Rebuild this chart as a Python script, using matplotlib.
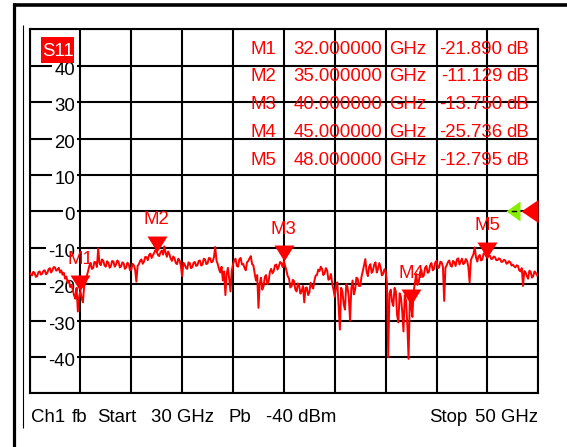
import numpy as np
import matplotlib
matplotlib.use("Agg")
import matplotlib.pyplot as plt
from matplotlib.path import Path
from matplotlib.lines import Line2D
from matplotlib.patches import Rectangle
import matplotlib.transforms as mtransforms

plt.rcParams['font.family'] = ['Liberation Sans', 'DejaVu Sans']

# ---------------- data ----------------
start_ghz = 30.0
stop_ghz = 50.0
s11_db = [
    -16.8, -17.3, -17.6, -16.6, -16.9, -18.0, -17.8, -16.7, -16.5, -17.4,
    -17.1, -16.3, -16.2, -17.3, -16.9, -15.9, -15.6, -16.8, -16.2, -15.3,
    -15.4, -16.3, -16.0, -15.5, -16.8, -16.2, -17.4, -16.9, -18.5, -17.9,
    -19.6, -19.0, -20.8, -20.2, -21.5, -23.0, -24.0, -21.0, -27.5, -23.5,
    -21.9, -23.8, -25.0, -20.5, -19.5, -17.8, -16.5, -15.0, -14.2, -15.8,
    -15.6, -13.9, -14.0, -15.3, -10.2, -14.2, -14.8, -13.2, -13.6, -14.9,
    -15.2, -13.7, -14.1, -15.5, -15.0, -13.6, -13.8, -15.2, -14.6, -13.5,
    -13.9, -15.4, -15.1, -14.0, -14.3, -15.8, -15.4, -14.1, -14.5, -16.2,
    -16.0, -14.4, -14.8, -15.9, -19.3, -15.0, -14.5, -13.6, -13.2, -14.4,
    -13.8, -12.5, -12.6, -13.4, -12.0, -11.6, -12.8, -12.1, -11.4, -10.6,
    -11.1, -12.0, -12.3, -11.2, -10.8, -11.9, -9.6, -11.4, -12.5, -11.0,
    -11.8, -13.0, -13.6, -12.4, -12.9, -14.2, -14.5, -13.0, -13.5, -15.0,
    -17.8, -14.1, -14.6, -15.5, -15.8, -14.0, -14.2, -15.6, -15.3, -14.1,
    -13.9, -15.0, -14.8, -13.6, -13.5, -14.9, -14.6, -13.0, -13.2, -14.5,
    -14.3, -12.8, -12.9, -14.0, -13.8, -12.6, -9.8, -13.5, -14.5, -15.9,
    -16.8, -15.2, -19.0, -16.5, -23.0, -17.2, -15.5, -18.6, -22.0, -16.3,
    -14.6, -13.4, -13.0, -15.0, -15.2, -13.1, -12.8, -14.6, -14.4, -15.5,
    -16.2, -14.0, -13.6, -12.9, -12.3, -14.5, -14.8, -17.0, -19.0, -17.5,
    -26.5, -19.8, -18.2, -21.5, -20.6, -18.0, -17.5, -20.0, -19.2, -16.6,
    -15.8, -17.0, -16.4, -14.8, -14.6, -16.0, -15.1, -13.9, -14.2, -15.3,
    -13.75, -15.0, -16.3, -17.8, -18.4, -20.9, -20.6, -18.8, -19.2, -21.5,
    -22.0, -19.8, -20.4, -22.6, -21.8, -20.5, -25.0, -21.0, -20.9, -23.0,
    -22.3, -19.6, -20.5, -21.2, -19.0, -17.6, -17.5, -16.0, -16.4, -15.2,
    -15.8, -17.5, -17.0, -15.6, -16.2, -18.8, -18.5, -17.2, -20.0, -21.5,
    -23.5, -20.4, -19.5, -26.0, -32.5, -21.0, -22.0, -25.5, -27.0, -20.0,
    -20.8, -23.5, -30.0, -21.2, -19.0, -22.8, -21.5, -18.2, -18.5, -20.5,
    -20.5, -18.0, -16.5, -14.8, -13.1, -16.5, -17.8, -15.2, -14.5, -16.9,
    -16.3, -14.6, -14.0, -16.8, -15.8, -14.2, -15.4, -17.6, -17.2, -15.9,
    -16.5, -19.5, -40.0, -22.5, -21.5, -24.8, -26.0, -21.0, -22.0, -28.5,
    -30.5, -22.5, -23.5, -27.5, -33.0, -23.0, -24.5, -31.0, -40.5, -24.0,
    -25.736, -29.0, -22.0, -19.5, -17.2, -20.2, -19.5, -16.8, -16.0, -18.0,
    -17.6, -15.5, -15.0, -16.9, -16.6, -14.8, -14.2, -16.2, -15.8, -14.0,
    -13.6, -15.6, -15.4, -13.8, -14.0, -15.2, -24.6, -15.5, -14.8, -13.9,
    -13.5, -14.9, -15.2, -13.6, -14.0, -15.0, -13.2, -12.9, -14.6, -13.8,
    -13.0, -14.5, -14.2, -13.1, -13.6, -15.2, -19.5, -13.4, -12.5, -11.8,
    -9.9, -12.6, -13.8, -12.4, -12.0, -13.5, -13.2, -11.6, -11.5, -12.4,
    -12.795, -12.0, -12.2, -13.1, -13.0, -12.4, -12.6, -13.4, -13.4, -12.9,
    -13.1, -13.9, -13.8, -13.3, -13.5, -14.4, -14.2, -13.7, -14.0, -14.9,
    -14.6, -15.1, -15.4, -14.8, -15.0, -16.2, -16.5, -15.6, -20.5, -16.4,
    -16.8, -17.8, -18.5, -16.3, -16.6, -18.2, -17.8, -16.5, -16.9, -17.6,
    -17.2,
]
freq_ghz = np.linspace(start_ghz, stop_ghz, len(s11_db))

marker_names = ["M1", "M2", "M3", "M4", "M5"]
marker_ghz = [32.0, 35.0, 40.0, 45.0, 48.0]
marker_db = [-21.890, -11.129, -13.750, -25.736, -12.795]

y_ticks = [40, 30, 20, 10, 0, -10, -20, -30, -40]
ref_level = 0
trace_name = "S11"
footer_left = ["Ch1", "fb", "Start", "30 GHz", "Pb", "-40 dBm"]
footer_right = ["Stop", "50 GHz"]

# ---------------- figure ----------------
W, H = 567, 447
fig = plt.figure(figsize=(W / 100, H / 100), dpi=100)
fig.patch.set_facecolor("white")

def fx(x):
    return x / W

def fy(y):
    return 1 - y / H

ax_l, ax_r, ax_t, ax_b = 29.5, 538.3, 29.3, 393.4
ax = fig.add_axes([fx(ax_l), fy(ax_b), (ax_r - ax_l) / W, (ax_b - ax_t) / H])
ax.set_xlim(start_ghz, stop_ghz)
ax.set_ylim(-50, 50)
ax.set_xticks(np.arange(30, 51, 2))
ax.set_yticks(np.arange(-50, 51, 10))
ax.tick_params(length=0, labelbottom=False, labelleft=False)
ax.grid(True, color="black", lw=1.5)
ax.set_axisbelow(True)
for s in ax.spines.values():
    s.set_color("black")
    s.set_linewidth(1.5)

FS = 13.4
RED = "#ff0000"

# y labels inside the grid with white background
tr = mtransforms.blended_transform_factory(fig.transFigure, ax.transData)
tr = mtransforms.offset_copy(tr, fig=fig, y=-6.5, units="points")
for v in y_ticks:
    ax.text(fx(75), v, f"{v}", transform=tr, ha="right", va="baseline",
            fontsize=FS, color="black", zorder=2.5,
            bbox=dict(boxstyle="square,pad=0.1", fc="white", ec="none"))

# trace
ax.plot(freq_ghz, s11_db, color=RED, lw=1.4, zorder=3, clip_on=True)

# marker triangles (tip on the trace)
tri = Path([(-10, 16), (10, 16), (0, 0), (-10, 16)],
           [Path.MOVETO, Path.LINETO, Path.LINETO, Path.CLOSEPOLY])
ax.plot(marker_ghz, marker_db, ls="none", marker=tri, markersize=23,
        color=RED, markeredgewidth=0, zorder=2.8)
for n, f, d in zip(marker_names, marker_ghz, marker_db):
    ax.annotate(n, (f, d), xytext=(0, 23), textcoords="offset points",
                ha="center", va="center", fontsize=FS, color=RED, zorder=4)

# reference-level arrows on the right
btr = mtransforms.blended_transform_factory(ax.transAxes, ax.transData)
red_tri = Path([(0, 0), (17, 11.5), (17, -11.5), (0, 0)],
               [Path.MOVETO, Path.LINETO, Path.LINETO, Path.CLOSEPOLY])
green_tri = Path([(0, 0), (14, 10), (14, -10), (0, 0)],
                 [Path.MOVETO, Path.LINETO, Path.LINETO, Path.CLOSEPOLY])
ax.plot([(521 - ax_l) / (ax_r - ax_l)], [ref_level], transform=btr, ls="none",
        marker=red_tri, markersize=24.5, color=RED, markeredgewidth=0,
        clip_on=False, zorder=5)
ax.plot([(506 - ax_l) / (ax_r - ax_l)], [ref_level], transform=btr, ls="none",
        marker=green_tri, markersize=20.2, color="#88ee00", markeredgewidth=0,
        clip_on=False, zorder=5)
ax.plot([(512 - ax_l) / (ax_r - ax_l), (516 - ax_l) / (ax_r - ax_l)],
        [ref_level, ref_level], transform=btr, color="black", lw=1.0,
        clip_on=False, zorder=6)

# S11 tag
fig.add_artist(Rectangle((fx(41), fy(62.7)), (74 - 41) / W, (62.7 - 36.7) / H,
                         transform=fig.transFigure, fc=RED, ec="none", zorder=6))
fig.text(fx(57.5), fy(56.5), trace_name, ha="center", va="baseline",
         fontsize=FS, color="white", zorder=7)

# marker table
row0, step = 53.7, 27.75
for i, (n, f, d) in enumerate(zip(marker_names, marker_ghz, marker_db)):
    yb = fy(row0 + i * step)
    fig.text(fx(276.5), yb, n, ha="right", va="baseline", fontsize=FS, color=RED, zorder=7)
    fig.text(fx(382), yb, f"{f:.6f}", ha="right", va="baseline", fontsize=FS, color=RED, zorder=7)
    fig.text(fx(389.5), yb, "GHz", ha="left", va="baseline", fontsize=FS, color=RED, zorder=7)
    fig.text(fx(502.5), yb, f"{d:.3f}", ha="right", va="baseline", fontsize=FS, color=RED, zorder=7)
    fig.text(fx(529), yb, "dB", ha="right", va="baseline", fontsize=FS, color=RED, zorder=7)

# footer
foot_x = [31, 72, 97, 151, 228.5, 266]
for x, t in zip(foot_x, footer_left):
    fig.text(fx(x), fy(421.7), t, ha="left", va="baseline", fontsize=FS, color="black")
fig.text(fx(428.6), fy(421.7), footer_right[0], ha="left", va="baseline", fontsize=FS, color="black")
fig.text(fx(538), fy(421.7), footer_right[1], ha="right", va="baseline", fontsize=FS, color="black")

# outer frame
fig.add_artist(Line2D([fx(12.7), fx(567)], [fy(5), fy(5)], transform=fig.transFigure,
                      color="black", lw=2.6, solid_capstyle="butt"))
fig.add_artist(Line2D([fx(14.2), fx(14.2)], [fy(3.3), fy(447)], transform=fig.transFigure,
                      color="black", lw=2.3, solid_capstyle="butt"))
fig.add_artist(Line2D([fx(23.3), fx(23.3)], [fy(25), fy(428)], transform=fig.transFigure,
                      color="black", lw=0.8, solid_capstyle="butt"))

fig.savefig("out.png", dpi=100)
